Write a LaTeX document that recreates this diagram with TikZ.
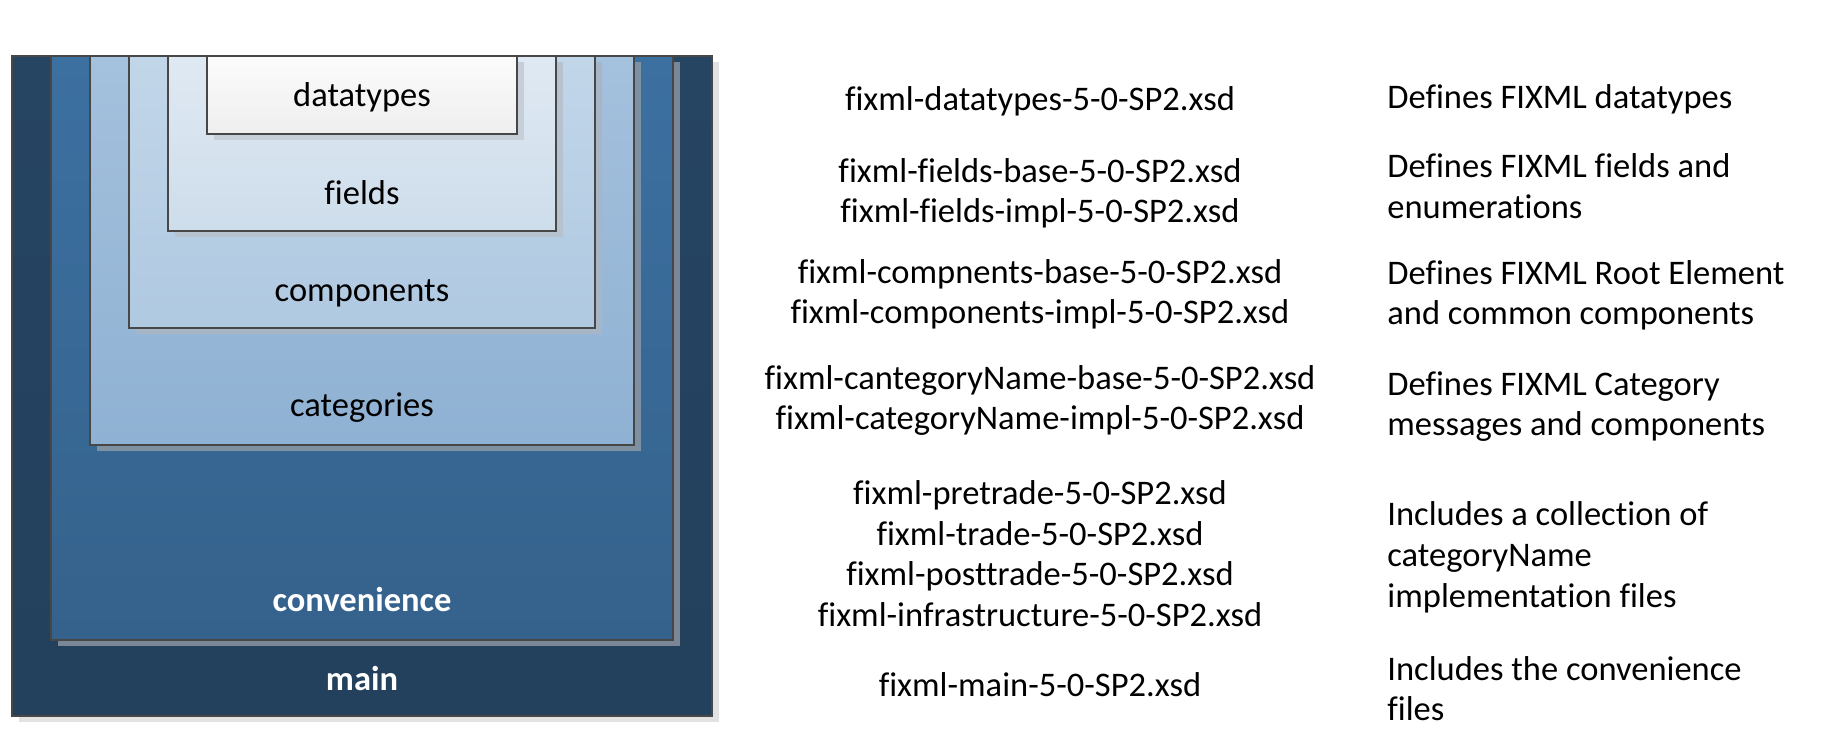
\documentclass[tikz,border=0pt]{standalone}
\usepackage{fontspec}
\setmainfont{Carlito}[Ligatures=NoCommon]
\usetikzlibrary{shadows}
\definecolor{bordergray}{HTML}{474747}
\definecolor{mainfill}{HTML}{264563}
\definecolor{mainfillb}{HTML}{23405C}
\definecolor{convtop}{HTML}{3C70A1}
\definecolor{convbot}{HTML}{35628C}
\definecolor{cattop}{HTML}{A4C1DD}
\definecolor{catbot}{HTML}{8FB1D3}
\definecolor{comptop}{HTML}{C2D6E9}
\definecolor{compbot}{HTML}{AFC9E1}
\definecolor{fldtop}{HTML}{DFE9F3}
\definecolor{fldbot}{HTML}{CEDDEB}
\definecolor{dttop}{HTML}{FCFCFC}
\definecolor{dtbot}{HTML}{EEEEEE}
\definecolor{shmain}{HTML}{E2E2E2}
\definecolor{shconv}{HTML}{7B8796}
\definecolor{shcat}{HTML}{7F90A2}
\definecolor{shcomp}{HTML}{A6B6C6}
\definecolor{shfld}{HTML}{B6C3CF}
\definecolor{shdt}{HTML}{C6CFD8}
\begin{document}
\begin{tikzpicture}[x=0.5pt,y=-0.5pt,
  every node/.style={font=\fontsize{17.25}{20.5}\selectfont},
  box/.style={rectangle, draw=bordergray, line width=0.8pt, inner sep=0pt, anchor=north},
  shadowed/.style={general shadow={fill=#1, shadow xshift=3.25pt, shadow yshift=-3.25pt}},
  lbl/.style={anchor=base, inner sep=0pt, text=black},
  wlbl/.style={anchor=base, inner sep=0pt, text=white, font=\fontsize{17.25}{20.5}\selectfont\bfseries},
  fname/.style={anchor=base, inner sep=0pt},
  desc/.style={anchor=base west, inner sep=0pt}]
\useasboundingbox (0,0) rectangle (1840,740);
% nested boxes
\node[box, shadowed=shmain, top color=mainfill, bottom color=mainfillb,
      minimum width=350pt, minimum height=330pt] (main) at (362,55) {};
\node[box, shadowed=shconv, top color=convtop, bottom color=convbot,
      minimum width=311pt, minimum height=292pt] (conv) at (362,55) {};
\node[box, shadowed=shcat, top color=cattop, bottom color=catbot,
      minimum width=272pt, minimum height=194.5pt] (cat) at (362,55) {};
\node[box, shadowed=shcomp, top color=comptop, bottom color=compbot,
      minimum width=233pt, minimum height=136pt] (comp) at (362,55) {};
\node[box, shadowed=shfld, top color=fldtop, bottom color=fldbot,
      minimum width=194pt, minimum height=87.5pt] (fld) at (362,55) {};
\node[box, shadowed=shdt, top color=dttop, bottom color=dtbot,
      minimum width=155pt, minimum height=39pt] (dt) at (362,55) {};
% box labels
\node[lbl] (tdt) at (362,106) {datatypes};
\node[lbl] (tfld) at (362,204) {fields};
\node[lbl] (tcomp) at (362,301) {components};
\node[lbl] (tcat) at (362,416) {categories};
\node[wlbl] (tconv) at (362,611) {convenience};
\node[wlbl] (tmain) at (362,690) {main};
% file names
\node[fname] (f1) at (1040,110) {fixml-datatypes-5-0-SP2.xsd};
\node[fname] (f2a) at (1040,182) {fixml-fields-base-5-0-SP2.xsd};
\node[fname] (f2b) at (1040,222) {fixml-fields-impl-5-0-SP2.xsd};
\node[fname] (f3a) at (1040,283) {fixml-compnents-base-5-0-SP2.xsd};
\node[fname] (f3b) at (1040,323) {fixml-components-impl-5-0-SP2.xsd};
\node[fname] (f4a) at (1040,389) {fixml-cantegoryName-base-5-0-SP2.xsd};
\node[fname] (f4b) at (1040,429) {fixml-categoryName-impl-5-0-SP2.xsd};
\node[fname] (f5a) at (1040,504) {fixml-pretrade-5-0-SP2.xsd};
\node[fname] (f5b) at (1040,545) {fixml-trade-5-0-SP2.xsd};
\node[fname] (f5c) at (1040,585) {fixml-posttrade-5-0-SP2.xsd};
\node[fname] (f5d) at (1040,626) {fixml-infrastructure-5-0-SP2.xsd};
\node[fname] (f6) at (1040,696) {fixml-main-5-0-SP2.xsd};
% descriptions
\node[desc] (d1) at (1387,108) {Defines FIXML datatypes};
\node[desc] (d2a) at (1387,177) {Defines FIXML fields and};
\node[desc] (d2b) at (1387,218) {enumerations};
\node[desc] (d3a) at (1387,284) {Defines FIXML Root Element};
\node[desc] (d3b) at (1387,324) {and common components};
\node[desc] (d4a) at (1387,395) {Defines FIXML Category};
\node[desc] (d4b) at (1387,435) {messages and components};
\node[desc] (d5a) at (1387,525) {Includes a collection of};
\node[desc] (d5b) at (1387,566) {categoryName};
\node[desc] (d5c) at (1387,607) {implementation files};
\node[desc] (d6a) at (1387,680) {Includes the convenience};
\node[desc] (d6b) at (1387,720) {files};
\end{tikzpicture}
\end{document}
